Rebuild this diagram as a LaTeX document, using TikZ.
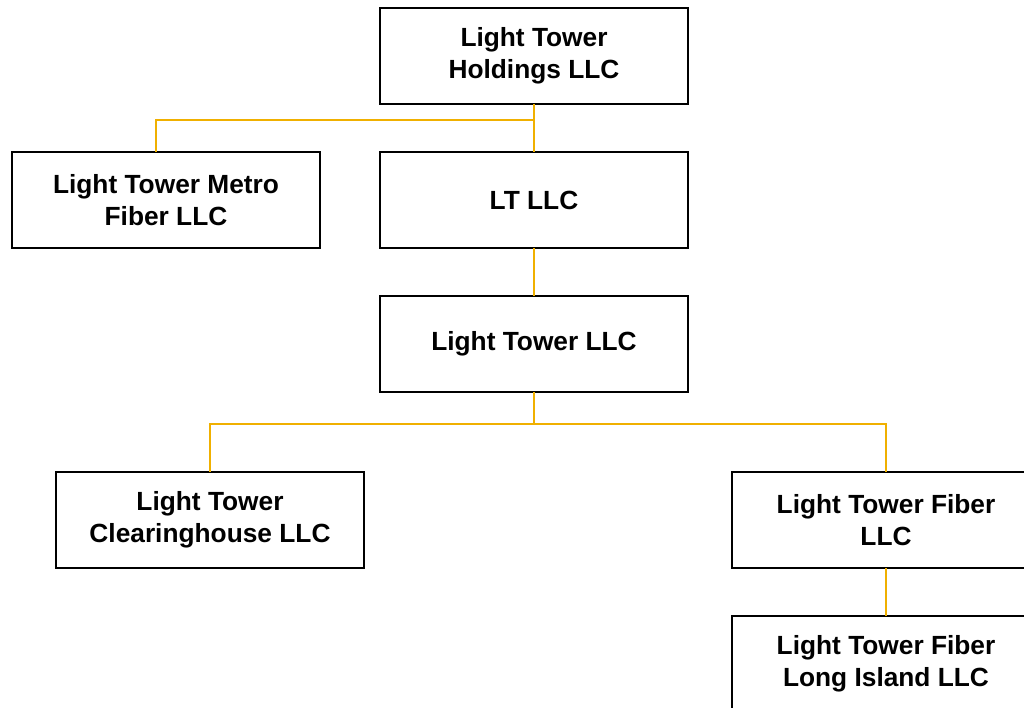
\documentclass[tikz,border=0pt]{standalone}
\usepackage{fontspec}
\setmainfont{Liberation Sans}
\usetikzlibrary{positioning}

\definecolor{linkorange}{HTML}{F0B000}

\begin{document}
\begin{tikzpicture}[
  node distance=1.2cm and 1.5cm,
  box/.style={draw, line width=1.3pt, align=center, minimum width=7.7cm, minimum height=2.4cm,
    font=\fontsize{18.7}{22.7}\selectfont\bfseries, inner sep=0pt, outer sep=0pt},
  link/.style={draw=linkorange, line width=1.3pt}
]
\useasboundingbox (0,0) rectangle (25.6,-17.7);
\node[box] (holdings) at (13.35,-1.4) {Light Tower\\Holdings LLC};
\node[box, below=of holdings] (ltllc) {LT LLC};
\node[box, left=of ltllc] (metro) {Light Tower Metro\\Fiber LLC};
\node[box, below=of ltllc] (ltower) {Light Tower LLC};
\node[box, below left=2cm and 0.4cm of ltower] (clearing) {Light Tower\\Clearinghouse LLC};
\node[box, below right=2cm and 1.1cm of ltower] (fiber) {Light Tower Fiber\\LLC};
\node[box, below=of fiber] (longisland) {Light Tower Fiber\\Long Island LLC};
\draw[link] (holdings.south) -- (ltllc.north);
\draw[link] (holdings.south) ++(0,-0.4) -| ([xshift=-0.25cm]metro.north);
\draw[link] (ltllc.south) -- (ltower.north);
\draw[link] (ltower.south) -- ++(0,-0.8) coordinate (split);
\draw[link] (split) -| (clearing.north);
\draw[link] (split) -| (fiber.north);
\draw[link] (fiber.south) -- (longisland.north);
\end{tikzpicture}
\end{document}
